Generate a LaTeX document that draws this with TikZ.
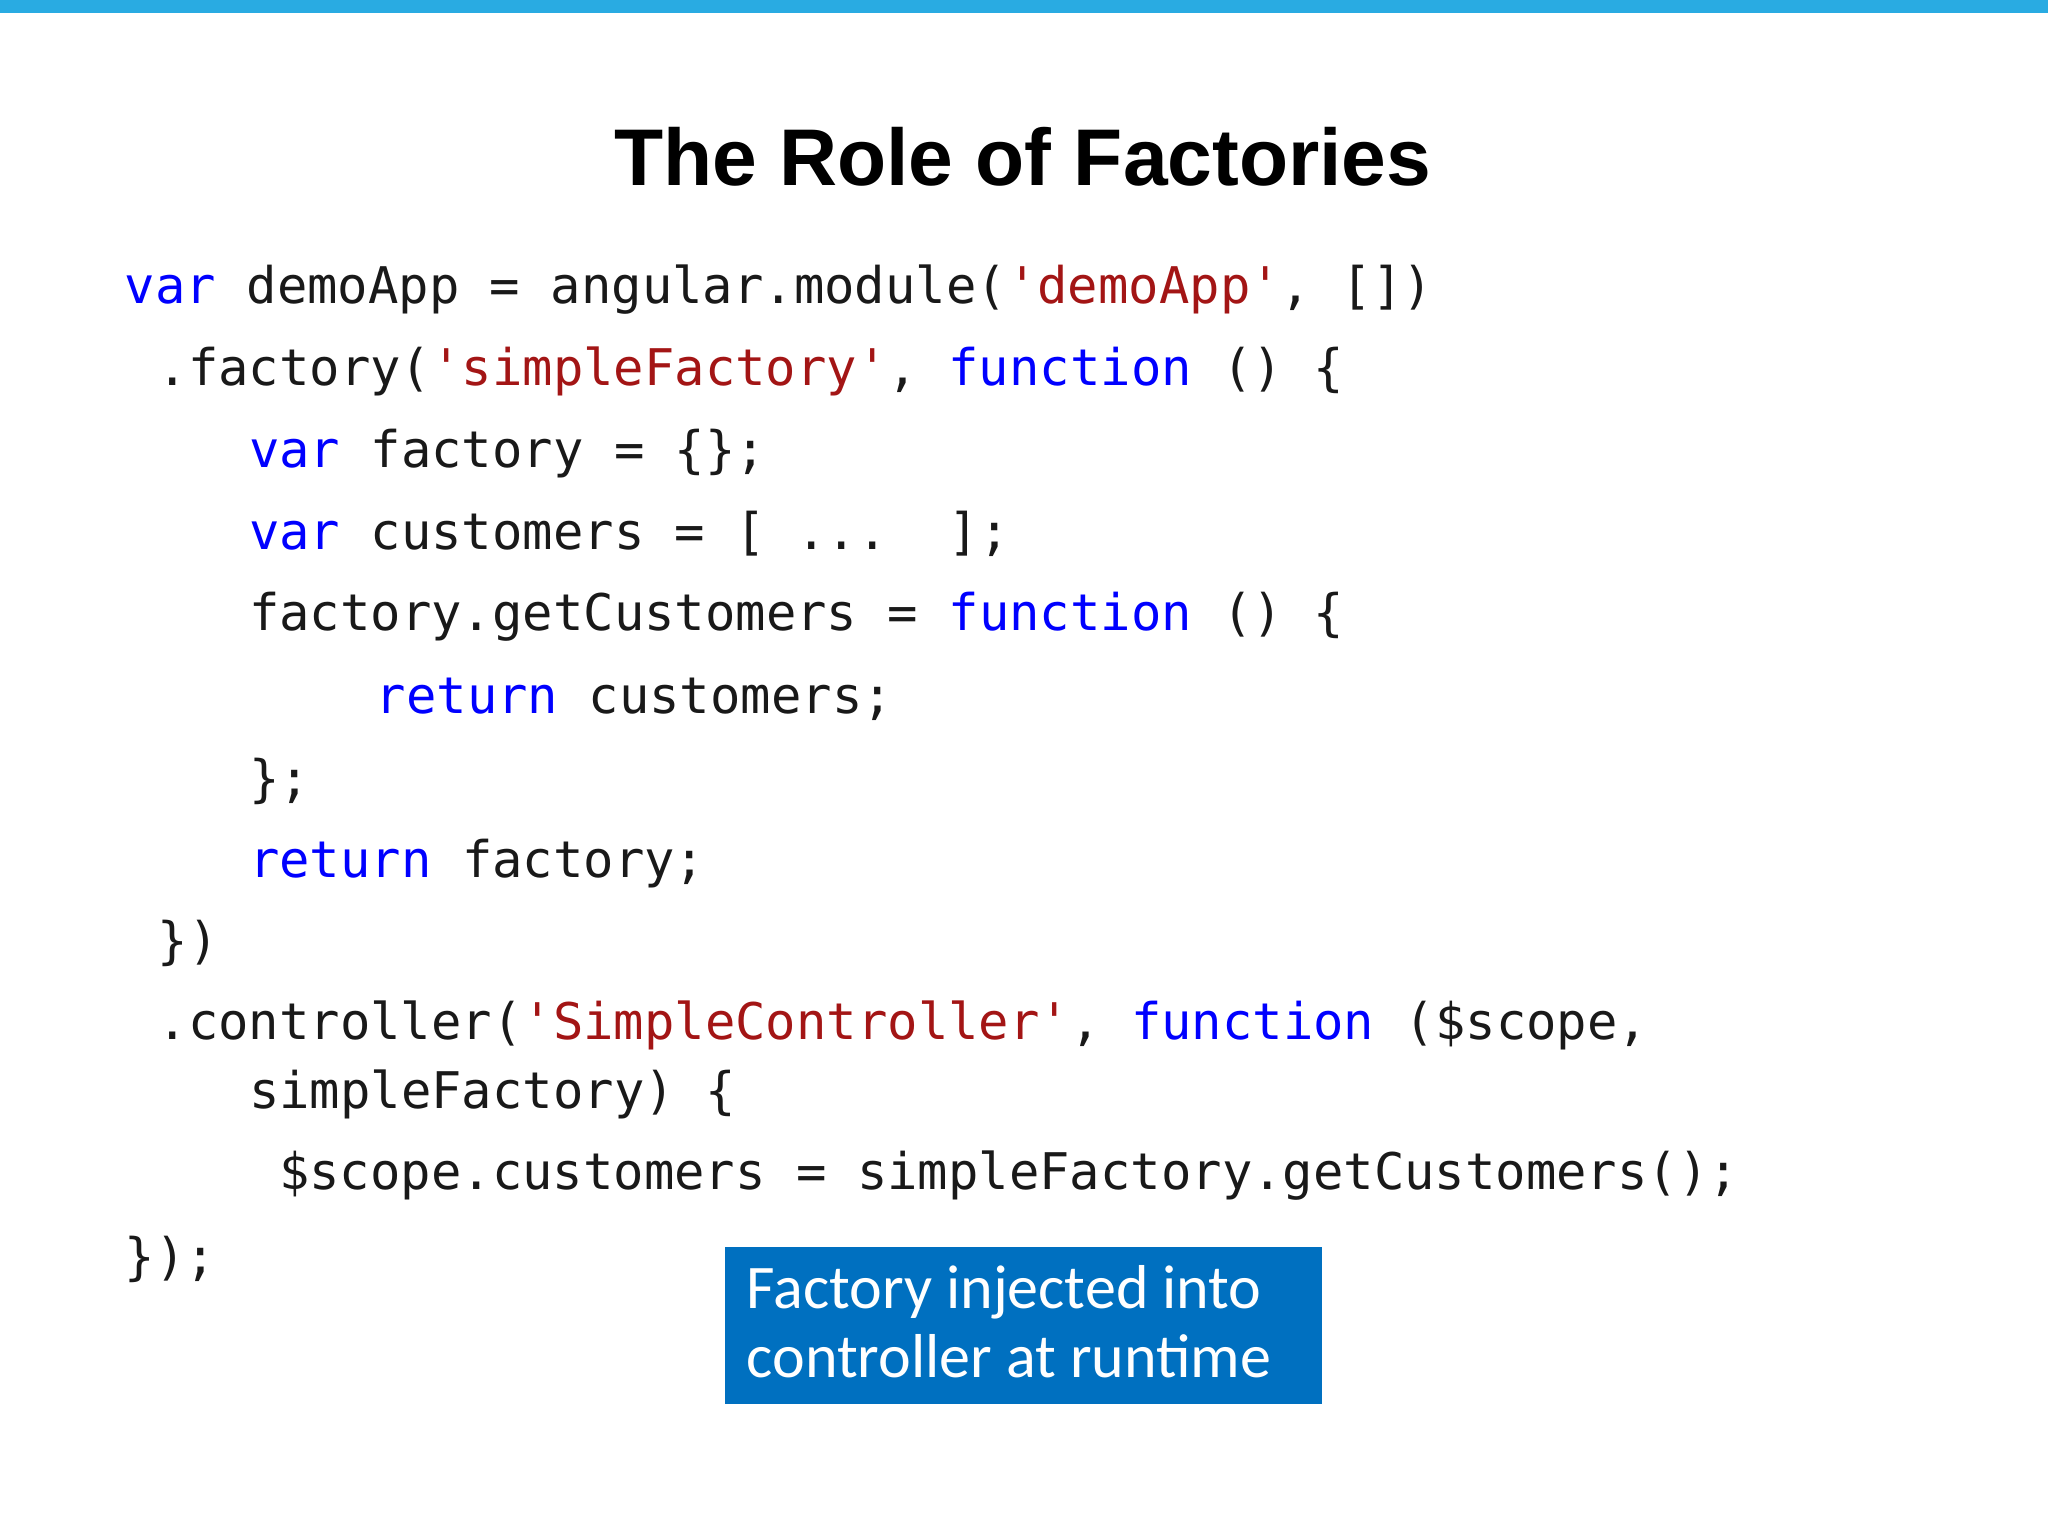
\documentclass[tikz,border=0pt]{standalone}
\usepackage{fontspec}
\setmainfont{Liberation Sans}
\setmonofont{DejaVu Sans Mono}
\newfontfamily\calfont{Carlito}
\definecolor{kw}{HTML}{0000FF}
\definecolor{st}{HTML}{A31515}
\definecolor{bar}{HTML}{29ABE2}
\definecolor{boxc}{HTML}{0070C0}
\newcommand{\K}[1]{\textcolor{kw}{#1}}
\newcommand{\Sx}[1]{\textcolor{st}{#1}}
\begin{document}
\begin{tikzpicture}[x=0.01cm,y=-0.01cm,
  code/.style={anchor=base west,inner sep=0pt,font=\ttfamily\fontsize{11pt}{13pt}\selectfont,text=black!90}]
\useasboundingbox (0,0) rectangle (1568,1176);
\fill[bar] (0,0) rectangle (1568,10);
\node[font=\bfseries\fontsize{17.5pt}{20pt}\selectfont] (title) at (783,120) {The Role of Factories};
\node[code] (l1) at (95,232) {\K{var} demoApp = angular.module(\Sx{'demoApp'}, [])};
\node[code] (l2) at (120,295) {.factory(\Sx{'simpleFactory'}, \K{function} () \{};
\node[code] (l3) at (190,358) {\K{var} factory = \{\};};
\node[code] (l4) at (190,421) {\K{var} customers = [ ...\ \ ];};
\node[code] (l5) at (190,483) {factory.getCustomers = \K{function} () \{};
\node[code] (l6) at (287,546) {\K{return} customers;};
\node[code] (l7) at (190,610) {\};};
\node[code] (l8) at (190,672) {\K{return} factory;};
\node[code] (l9) at (120,734) {\})};
\node[code] (l10) at (120,796) {.controller(\Sx{'SimpleController'}, \K{function} (\$scope,};
\node[code] (l11) at (190,849) {simpleFactory) \{};
\node[code] (l12) at (213,911) {\$scope.customers = simpleFactory.getCustomers();};
\node[code] (l13) at (95,976) {\});};
\fill[boxc] (555,955) rectangle (1012,1075);
\node[anchor=north west,inner sep=0pt,text=white,align=left,
  font=\calfont\fontsize{13.5pt}{15pt}\selectfont] (note) at (571,968) {Factory injected into\\controller at runtime};
\end{tikzpicture}
\end{document}
